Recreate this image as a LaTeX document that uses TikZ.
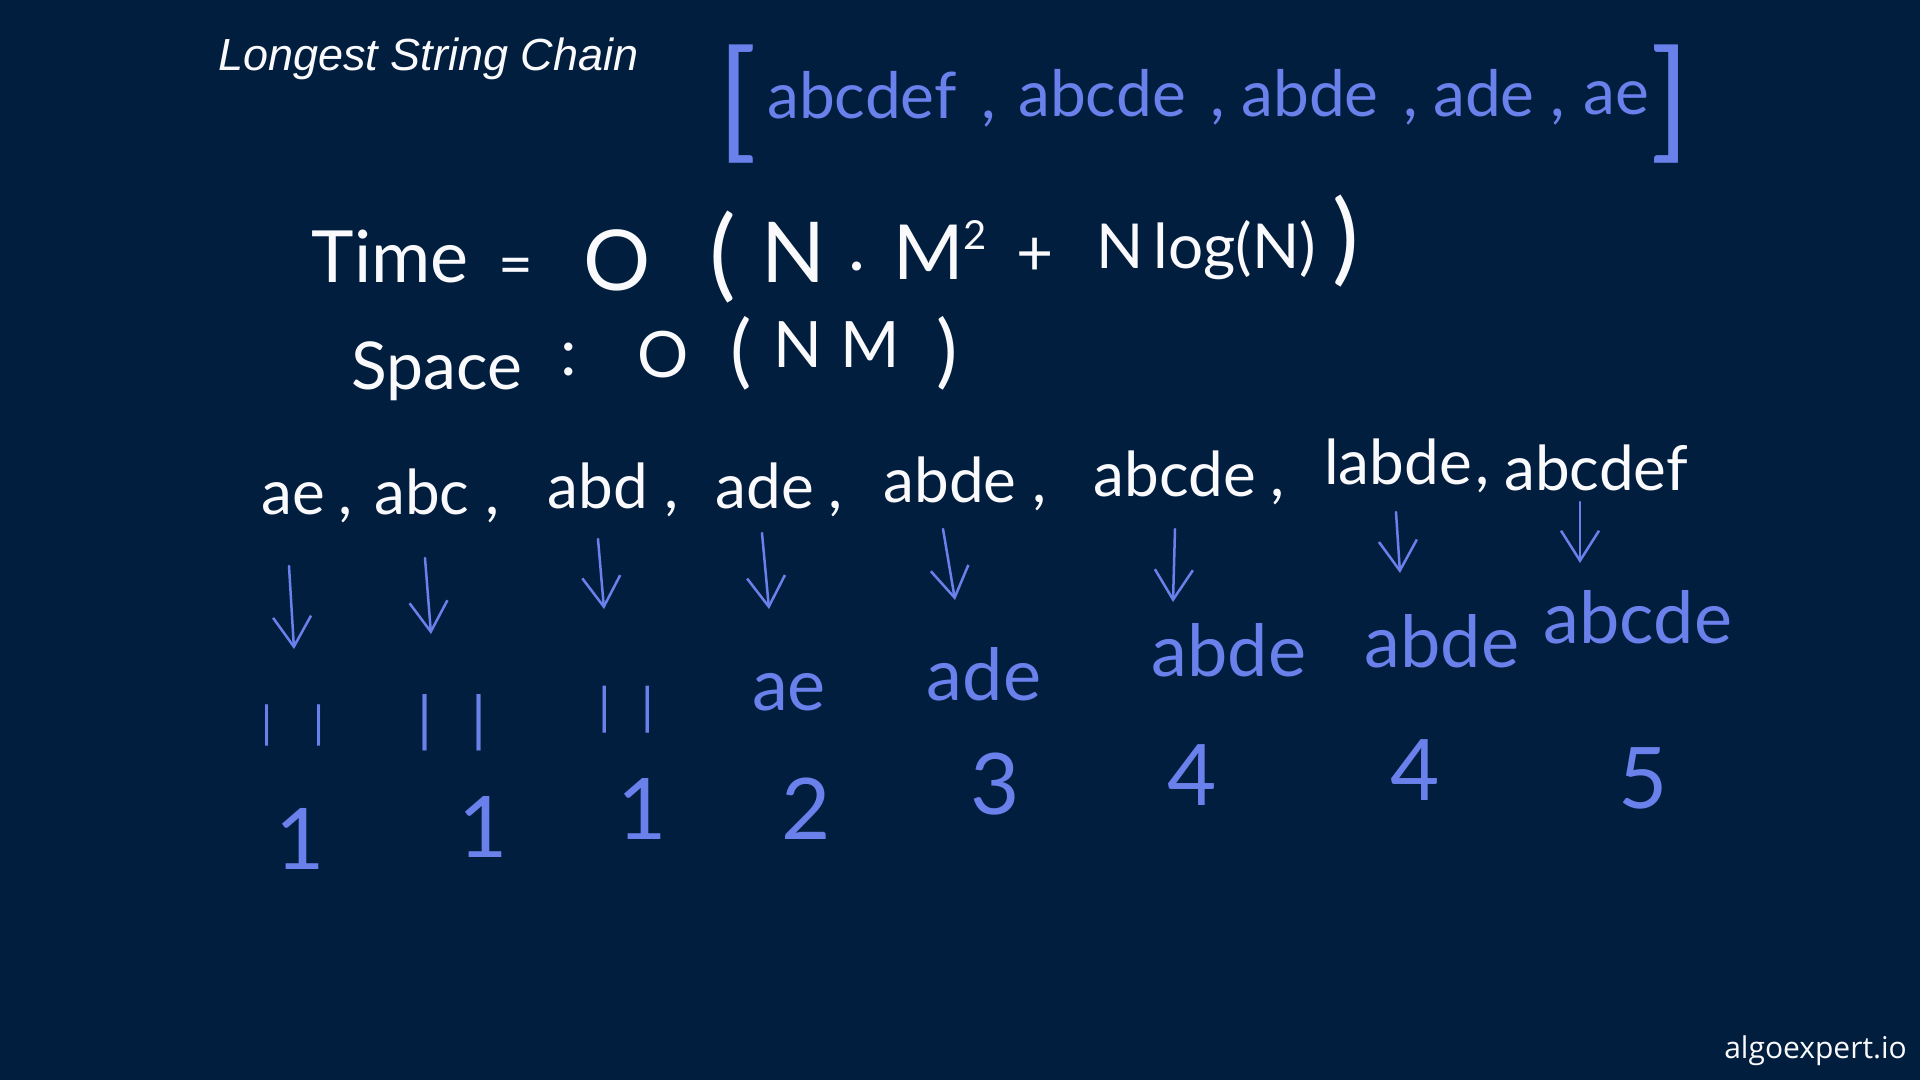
\documentclass[tikz,border=0pt]{standalone}
\usepackage{fontspec}
\setmainfont{Lato}
\newfontfamily\titlefont{Liberation Sans}
\newfontfamily\wmfont{Open Sans}
\usetikzlibrary{arrows.meta}
\definecolor{bg}{RGB}{2,30,63}
\definecolor{inkblue}{RGB}{106,128,234}
\definecolor{inkwhite}{RGB}{250,250,252}
\newcommand\hwsize[1]{\fontsize{#1}{#1}\selectfont}
\newcommand\trailcomma[1]{\rlap{\hspace{#1pt},}}
\begin{document}
\begin{tikzpicture}[x=1pt,y=-1pt,
  wt/.style={text=inkwhite,inner sep=0pt,anchor=base},
  bt/.style={text=inkblue,inner sep=0pt,anchor=base},
  arr/.style={draw=inkblue,line width=2.5pt,line cap=round,line join=round,
    -{Straight Barb[length=30pt,width=38pt,line width=2.5pt]}},
]
\fill[bg] (0,0) rectangle (1920,1080);
\useasboundingbox (0,0) rectangle (1920,1080);

% title
\node[wt,anchor=base west,font=\titlefont\itshape\hwsize{45}] (title) at (218,70) {Longest String Chain};

% input array
\node[bt,font=\hwsize{130}] (lb) at (737,144) {[};
\node[bt,font=\hwsize{64}] (a1) at (862,118) {abcdef\trailcomma{25}};
\node[bt,font=\hwsize{64}] (a2) at (1102,116) {abcde\trailcomma{25}};
\node[bt,font=\hwsize{64}] (a3) at (1310,116) {abde\trailcomma{25}};
\node[bt,font=\hwsize{64}] (a4) at (1484,116) {ade\trailcomma{16}};
\node[bt,font=\hwsize{64}] (a5) at (1616,114) {ae};
\node[bt,font=\hwsize{130}] (rb) at (1670,144) {]};

% time complexity
\node[wt,font=\hwsize{72}] (tTime) at (390,282) {Time};
\node[wt,font=\hwsize{60}] (tEq) at (516,285) {=};
\node[wt,font=\hwsize{84}] (tO) at (617,290) {O};
\node[wt,font=\hwsize{100}] (tLp) at (723,288) {(};
\node[wt,font=\hwsize{84}] (tN) at (794,282) {N};
\node[wt,font=\hwsize{72}] (tDot) at (857,270) {.};
\node[wt,font=\hwsize{76}] (tM) at (940,279) {M\raisebox{30pt}{\hwsize{40}2}};
\node[wt,font=\hwsize{64}] (tPlus) at (1035,275) {+};
\node[wt,font=\hwsize{62},anchor=base west] (tNlog) at (1096,268) {N\,log(N)};
\node[wt,font=\hwsize{100}] (tRp) at (1346,272) {)};

% space complexity
\node[wt,font=\hwsize{66}] (sSpace) at (437,389) {Space};
\node[wt,font=\hwsize{66}] (sCol) at (569,375) {:};
\node[wt,font=\hwsize{64}] (sO) at (663,377) {O};
\node[wt,font=\hwsize{80}] (sLp) at (741,378) {(};
\node[wt,font=\hwsize{64}] (sNM) at (837,367) {N\hspace{18pt}M};
\node[wt,font=\hwsize{80}] (sRp) at (947,378) {)};

% sorted words
\node[wt,font=\hwsize{62}] (w1) at (293,514) {ae\trailcomma{14}};
\node[wt,font=\hwsize{62}] (w2) at (422,514) {abc\trailcomma{16}};
\node[wt,font=\hwsize{62}] (w3) at (598,508) {abd\trailcomma{16}};
\node[wt,font=\hwsize{62}] (w4) at (765,508) {ade\trailcomma{14}};
\node[wt,font=\hwsize{62}] (w5) at (950,502) {abde\trailcomma{16}};
\node[wt,font=\hwsize{62}] (w6) at (1175,496) {abcde\trailcomma{14}};
\node[wt,font=\hwsize{62}] (w7) at (1398,484) {labde\trailcomma{4}};
\node[wt,font=\hwsize{62}] (w8) at (1596,490) {abcdef};

% arrows
\coordinate (s1) at (289,566); \coordinate (e1) at (294,649);
\coordinate (s2) at (425,558); \coordinate (e2) at (431,634);
\coordinate (s3) at (598,539); \coordinate (e3) at (604,609);
\coordinate (s4) at (762,533); \coordinate (e4) at (769,609);
\coordinate (s5) at (943,529); \coordinate (e5) at (955,600);
\coordinate (s6) at (1175,529); \coordinate (e6) at (1173,602);
\coordinate (s7) at (1396,512); \coordinate (e7) at (1400,573);
\coordinate (s8) at (1580,502); \coordinate (e8) at (1580,563);
\foreach \i in {1,...,8} \draw[arr] (s\i) -- (e\i);

% predecessors
\node[bt,font=\hwsize{44}] (p1) at (293,738) {\textbar\hspace{40pt}\textbar};
\node[bt,font=\hwsize{60}] (p2) at (452,740) {\textbar\hspace{38pt}\textbar};
\node[bt,font=\hwsize{50}] (p3) at (626,724) {\textbar\hspace{30pt}\textbar};
\node[bt,font=\hwsize{72}] (p4) at (789,710) {ae};
\node[bt,font=\hwsize{72}] (p5) at (984,700) {ade};
\node[bt,font=\hwsize{72}] (p6) at (1229,676) {abde};
\node[bt,font=\hwsize{72}] (p7) at (1442,667) {abde};
\node[bt,font=\hwsize{72}] (p8) at (1638,643) {abcde};

% chain lengths
\node[bt,font=\hwsize{85}] (n1) at (300,869) {1};
\node[bt,font=\hwsize{85}] (n2) at (483,857) {1};
\node[bt,font=\hwsize{85}] (n3) at (642,839) {1};
\node[bt,font=\hwsize{85}] (n4) at (806,839) {2};
\node[bt,font=\hwsize{85}] (n5) at (995,814) {3};
\node[bt,font=\hwsize{85}] (n6) at (1192,805) {4};
\node[bt,font=\hwsize{85}] (n7) at (1415,800) {4};
\node[bt,font=\hwsize{85}] (n8) at (1643,808) {5};

% watermark
\node[wt,font=\wmfont\hwsize{30},anchor=base east] (wm) at (1907,1058) {algoexpert.io};
\end{tikzpicture}
\end{document}
